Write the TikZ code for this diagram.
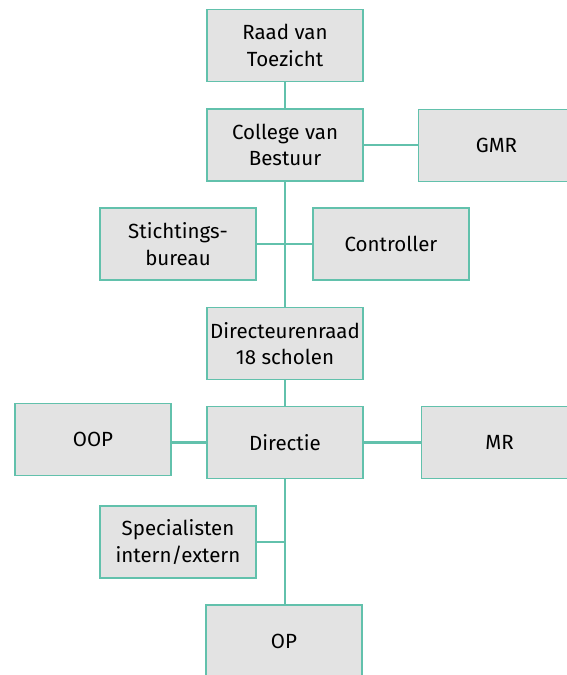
\documentclass[tikz,border=0pt]{standalone}
\usepackage{fontspec}
\setmainfont{Fira Sans}
\definecolor{orgteal}{RGB}{98,193,172}
\definecolor{orggray}{RGB}{227,227,227}

\begin{document}
\begin{tikzpicture}[x=1pt,y=-1pt,
  orgbox/.style={draw=orgteal,fill=orggray,line width=1.5pt,
    minimum width=156pt,minimum height=72pt,inner sep=0pt,align=center,
    font=\fontsize{20.5}{26.5}\selectfont},
  orgline/.style={draw=orgteal,line width=2.8pt}]
\useasboundingbox (0,0) rectangle (567,675);
% top of the organisation
\node[orgbox] (raad) at (285,45.5) {Raad van\\Toezicht};
\node[orgbox] (college) at (285,145) {College van\\Bestuur};
\node[orgbox] (gmr) at (496.5,145.5) {GMR};
% staff
\node[orgbox] (stichting) at (178,244) {Stichtings-\\bureau};
\node[orgbox] (controller) at (391,244) {Controller};
% schools
\node[orgbox] (dirraad) at (285,343.5) {Directeurenraad\\18 scholen};
\node[orgbox] (directie) at (285,442.5) {Directie};
\node[orgbox] (oop) at (93,439.5) {OOP};
\node[orgbox] (mr) at (499.5,442.5) {MR};
\node[orgbox] (spec) at (178,542) {Specialisten\\intern/extern};
\node[orgbox] (op) at (284,641) {OP};
% connectors
\draw[orgline] (raad) -- (college);
\draw[orgline] (college) -- (gmr.west |- college);
\draw[orgline] (college) -- (dirraad);
\draw[orgline] (stichting) -- (controller);
\draw[orgline] (dirraad) -- (directie);
\draw[orgline] (oop.east |- directie) -- (directie);
\draw[orgline] (directie) -- (mr);
\draw[orgline] (directie) -- (directie |- op.north);
\draw[orgline] (spec) -- (spec -| directie);
\end{tikzpicture}
\end{document}
